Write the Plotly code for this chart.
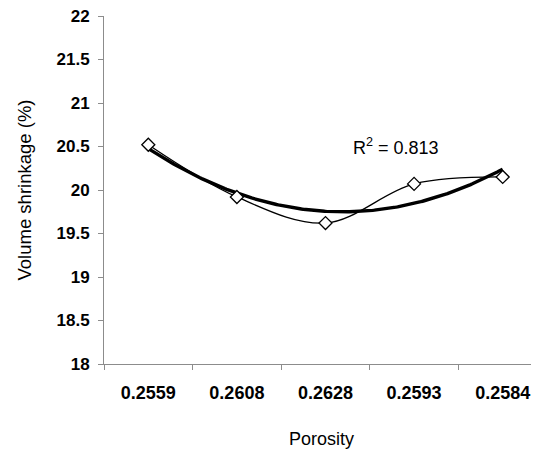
import numpy as np
import plotly.graph_objects as go

categories = ["0.2559", "0.2608", "0.2628", "0.2593", "0.2584"]
shrinkage = [20.52, 19.92, 19.62, 20.07, 20.15]
y_ticks = [18, 18.5, 19, 19.5, 20, 20.5, 21, 21.5, 22]
r2_label = "R<sup>2</sup> = 0.813"

xi = np.arange(len(categories))
coef = np.polyfit(xi + 1, shrinkage, 2)
xs = np.linspace(0, len(categories) - 1, 200)
ys = np.polyval(coef, xs + 1)

FONT = "Arial, Liberation Sans, sans-serif"
GRAY = "#8c8c8c"

fig = go.Figure()
fig.add_trace(go.Scatter(
    x=xs, y=ys, mode="lines",
    line=dict(color="black", width=3.4), hoverinfo="skip", showlegend=False))
fig.add_trace(go.Scatter(
    x=xi, y=shrinkage, mode="lines+markers",
    line=dict(color="black", width=1.3, shape="spline", smoothing=1),
    marker=dict(symbol="diamond", size=10, color="white",
                line=dict(color="black", width=1.3)),
    showlegend=False))

fig.add_annotation(x=2.8, y=20.5, xref="x", yref="y", text=r2_label,
                   showarrow=False, font=dict(family=FONT, size=18, color="black"))

# page body has an 8px default margin; figure sized so the plot lands where the reference has it
fig.update_layout(
    width=531, height=444,
    margin=dict(l=96, r=0, t=8, b=88),
    paper_bgcolor="white", plot_bgcolor="white",
    font=dict(family=FONT, color="black"),
    xaxis=dict(
        range=[-0.5, 4.41], tickvals=list(xi), ticktext=categories,
        ticks="", showline=True, linecolor=GRAY, linewidth=1,
        showgrid=False, zeroline=False, automargin=False,
        tickfont=dict(family=FONT, size=18, color="black", weight="bold"),
        ticklabelstandoff=12, ticklabeloverflow="allow",
        minor=dict(tickvals=[-0.5, 0.5, 1.5, 2.5, 3.5, 4.5], ticks="outside",
                   ticklen=5, tickcolor=GRAY, tickwidth=1, showgrid=False),
        title=dict(text="Porosity", font=dict(family=FONT, size=18), standoff=30),
    ),
    yaxis=dict(
        range=[18, 22], tickvals=y_ticks,
        ticks="outside", ticklen=5, tickcolor=GRAY,
        showline=True, linecolor=GRAY, linewidth=1,
        showgrid=False, zeroline=False, automargin=False,
        tickfont=dict(family=FONT, size=17, color="black", weight="bold"),
        ticklabelstandoff=5, ticklabeloverflow="allow",
        title=dict(text="Volume shrinkage (%)", font=dict(family=FONT, size=18.5), standoff=20),
    ),
)

fig.write_html("out.html")
